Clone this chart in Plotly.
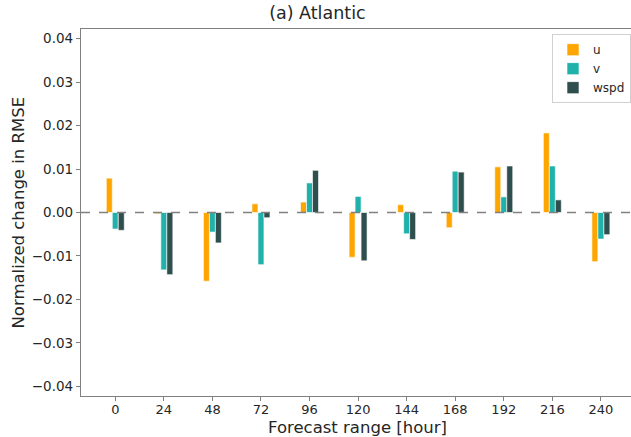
import plotly.graph_objects as go

categories = ["0", "24", "48", "72", "96", "120", "144", "168", "192", "216", "240"]
u_vals = [0.0079, -0.0003, -0.0158, 0.0020, 0.0024, -0.0103, 0.0018, -0.0035, 0.0105, 0.0183, -0.0113]
v_vals = [-0.0038, -0.0132, -0.0045, -0.0120, 0.0068, 0.0037, -0.0049, 0.0095, 0.0036, 0.0107, -0.0061]
wspd_vals = [-0.0041, -0.0143, -0.0070, -0.0012, 0.0097, -0.0111, -0.0062, 0.0093, 0.0107, 0.0029, -0.0051]
series_names = ["u", "v", "wspd"]
series_colors = ["#FFA500", "#20B2AA", "#2F4F4F"]
y_ticks = [-0.04, -0.03, -0.02, -0.01, 0.0, 0.01, 0.02, 0.03, 0.04]

fig = go.Figure()
for name, vals, col in zip(series_names, [u_vals, v_vals, wspd_vals], series_colors):
    fig.add_trace(go.Bar(x=categories, y=vals, name=name, marker_color=col,
                         marker_line_color="white", marker_line_width=0.6))

font_family = "DejaVu Sans"
txt = "#262626"
fig.update_layout(
    width=631, height=437,
    margin=dict(l=81, r=0, t=29, b=41),
    paper_bgcolor="white", plot_bgcolor="white",
    barmode="group", bargap=0.63, bargroupgap=0,
    font=dict(family=font_family, color=txt),
    title=dict(text="(a) Atlantic", x=0.503, xanchor="center", y=0.97, yanchor="middle",
               font=dict(size=17.5, color=txt)),
    legend=dict(x=1.0, xanchor="right", y=0.986, yanchor="top",
                bordercolor="#d0d0d0", borderwidth=1, bgcolor="white",
                font=dict(size=12, color=txt), tracegroupgap=0),
    showlegend=True,
    shapes=[dict(type="line", xref="paper", x0=0, x1=1, yref="y", y0=0, y1=0,
                 line=dict(color="gray", width=1.5, dash="dash"), layer="above")],
    annotations=[
        dict(text="Forecast range [hour]", xref="paper", yref="paper", x=0.503, y=-0.086,
             xanchor="center", yanchor="middle", showarrow=False,
             font=dict(size=16.5, color=txt)),
        dict(text="Normalized change in RMSE", xref="paper", yref="paper", x=-0.1145, y=0.5,
             xanchor="center", yanchor="middle", textangle=-90, showarrow=False,
             font=dict(size=16.5, color=txt)),
    ],
)
fig.update_xaxes(
    type="category", range=[-0.706, 10.62],
    showline=True, linecolor="#808080", linewidth=1.3, mirror=True,
    ticks="outside", ticklen=4, tickcolor="#808080", ticklabelstandoff=-3,
    tickfont=dict(size=13), showgrid=False, zeroline=False,
)
fig.update_yaxes(
    range=[-0.0422, 0.0422], tickvals=y_ticks, tickformat=".2f",
    showline=True, linecolor="#808080", linewidth=1.3, mirror=False,
    ticks="outside", ticklen=4, tickcolor="#808080",
    tickfont=dict(size=13.5), showgrid=False, zeroline=False,
)
fig.write_html("out.html")
